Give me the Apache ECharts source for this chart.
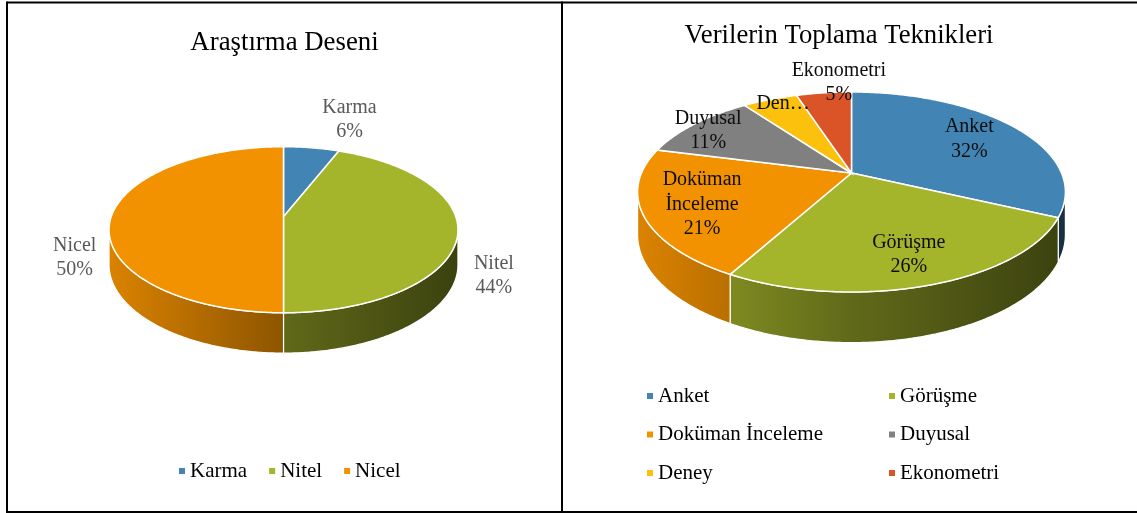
<!DOCTYPE html>
<html>
<head>
<meta charset="utf-8">
<script src="https://cdn.jsdelivr.net/npm/echarts/dist/echarts.min.js"></script>
<style>
  html, body { margin: 0; padding: 0; background: #fff; }
  #chart { width: 1137px; height: 513px; }
</style>
</head>
<body>
<div id="chart"></div>
<script>
// Araştırma Deseni
const designNames = ['Karma', 'Nitel', 'Nicel'];
const designValues = [6, 44, 50];

// Verilerin Toplama Teknikleri
const techNames = ['Anket', 'Görüşme', 'Doküman İnceleme', 'Duyusal', 'Deney', 'Ekonometri'];
const techValues = [32, 26, 21, 11, 5, 5];

const designColors = ['#4285B4', '#A5B52B', '#F39200'];
const techColors = ['#4285B4', '#A5B52B', '#F39200', '#808080', '#FBC10C', '#DB5428'];

// 3B pasta görünümü (merkez, yarıçaplar, perspektif, kalınlık)
const designPie = { cx: 283.5, cy: 216.7, rx: 172.3, ry: 81, p: 0.157, h: 34 };
const techPie = { cx: 851.5, cy: 173, rx: 210, ry: 96.4, p: 0.19, h: 41 };

// etiket yerleşimi: yarıçap oranı + kaydırma
const designLabelPos = [
  { f: 1, dx: 38, dy: -28 },
  { f: 1, dx: 36, dy: 43.5 },
  { f: 1, dx: -36.5, dy: 41 }
];
const techLabelPos = [
  { f: 0.7, dx: 2, dy: 0 },
  { f: 0.75, dx: 1, dy: 2 },
  { f: 0.7, dx: -7, dy: 3 },
  { f: 0.85, dx: -8, dy: 0 },
  { f: 0.9, dx: 6, dy: -2 },
  { f: 1, dx: 15, dy: -10 }
];

const FONT = '"Liberation Serif", "Times New Roman", serif';

function shade(hex, k) {
  const n = parseInt(hex.slice(1), 16);
  const r = Math.round(((n >> 16) & 255) * k);
  const g = Math.round(((n >> 8) & 255) * k);
  const b = Math.round((n & 255) * k);
  return 'rgb(' + r + ',' + g + ',' + b + ')';
}

// açı: saat 12'den saat yönünde (radyan)
function proj(g, phi, f) {
  const u = Math.sin(phi) * f;
  const v = -Math.cos(phi) * f;
  const s = 1 / (1 - g.p * v);
  return [g.cx + g.rx * u * s, g.cy + g.ry * v * s, s];
}

function pieSeries(idx, names, values, colors, g, labelPos, labelColor, labelText) {
  const total = values.reduce((a, b) => a + b, 0);
  let start = 0;
  for (let i = 0; i < idx; i++) start += values[i];
  const a0 = start / total * Math.PI * 2;
  const a1 = (start + values[idx]) / total * Math.PI * 2;
  const color = colors[idx];

  return {
    type: 'custom',
    name: names[idx],
    coordinateSystem: 'none',
    silent: true,
    itemStyle: { color: color },
    data: [[values[idx]]],
    renderItem: function () {
      const children = [];

      // yan yüz (sadece önde görünen kısım)
      const lo = Math.acos(-g.p);
      const hi = Math.PI * 2 - lo;
      const sa = Math.max(a0, lo);
      const sb = Math.min(a1, hi);
      if (sb > sa) {
        const n = Math.max(2, Math.ceil((sb - sa) / 0.01));
        const topPts = [];
        const botPts = [];
        for (let i = 0; i <= n; i++) {
          const pt = proj(g, sa + (sb - sa) * i / n, 1);
          topPts.push([pt[0], pt[1]]);
          botPts.push([pt[0], pt[1] + g.h * pt[2]]);
        }
        children.push({
          type: 'polygon',
          shape: { points: topPts.concat(botPts.reverse()) },
          style: {
            fill: {
              type: 'linear', global: true,
              x: g.cx - g.rx * 1.02, y: 0, x2: g.cx + g.rx * 1.02, y2: 0,
              colorStops: [
                { offset: 0, color: shade(color, 0.9) },
                { offset: 0.5, color: shade(color, 0.58) },
                { offset: 1, color: shade(color, 0.36) }
              ]
            },
            stroke: '#fff',
            lineWidth: 1.2
          }
        });
      }

      // üst yüz
      const n2 = Math.max(2, Math.ceil((a1 - a0) / 0.01));
      const pts = [[g.cx, g.cy]];
      for (let i = 0; i <= n2; i++) {
        const pt = proj(g, a0 + (a1 - a0) * i / n2, 1);
        pts.push([pt[0], pt[1]]);
      }
      children.push({
        type: 'polygon',
        shape: { points: pts },
        style: { fill: color, stroke: '#fff', lineWidth: 1.5 }
      });

      // etiket
      const lp = labelPos[idx];
      const mid = (a0 + a1) / 2;
      const lpt = proj(g, mid, lp.f);
      children.push({
        type: 'text',
        z2: 10,
        style: {
          text: labelText(idx, Math.round(values[idx] / total * 100)),
          x: lpt[0] + lp.dx,
          y: lpt[1] + lp.dy,
          align: 'center',
          verticalAlign: 'middle',
          fontFamily: FONT,
          fontSize: 20,
          lineHeight: 24.5,
          fill: labelColor
        }
      });

      return { type: 'group', children: children };
    }
  };
}

const series = [];
designNames.forEach(function (n, i) {
  series.push(pieSeries(i, designNames, designValues, designColors, designPie, designLabelPos, '#595959',
    function (k, pct) { return designNames[k] + '\n' + pct + '%'; }));
});
techNames.forEach(function (n, i) {
  series.push(pieSeries(i, techNames, techValues, techColors, techPie, techLabelPos, '#0d0d0d',
    function (k, pct) {
      if (techNames[k] === 'Deney') return 'Den…';
      return techNames[k].replace(' ', '\n') + '\n' + pct + '%';
    }));
});

const legendBase = {
  icon: 'rect',
  itemWidth: 6,
  itemHeight: 6,
  padding: 0,
  selectedMode: false,
  textStyle: { fontFamily: FONT, fontSize: 21, color: '#000', lineHeight: 22 }
};

const chart = echarts.init(document.getElementById('chart'));
chart.setOption({
  animation: false,
  color: designColors,
  legend: [
    Object.assign({}, legendBase, {
      data: designNames, left: 179, top: 460, orient: 'horizontal', itemGap: 22
    }),
    Object.assign({}, legendBase, {
      data: ['Anket', 'Doküman İnceleme', 'Deney'], left: 647, top: 385, orient: 'vertical', itemGap: 16.5
    }),
    Object.assign({}, legendBase, {
      data: ['Görüşme', 'Duyusal', 'Ekonometri'], left: 889, top: 385, orient: 'vertical', itemGap: 16.5
    })
  ],
  graphic: [
    // çerçeve
    { type: 'line', shape: { x1: 7, y1: 2.5, x2: 1137, y2: 2.5 }, style: { stroke: '#000', lineWidth: 2 } },
    { type: 'line', shape: { x1: 7, y1: 512, x2: 1137, y2: 512 }, style: { stroke: '#000', lineWidth: 2 } },
    { type: 'line', shape: { x1: 7, y1: 1.5, x2: 7, y2: 513 }, style: { stroke: '#000', lineWidth: 2 } },
    { type: 'line', shape: { x1: 562, y1: 1.5, x2: 562, y2: 513 }, style: { stroke: '#000', lineWidth: 2 } },
    // başlıklar
    {
      type: 'text', x: 284.5, y: 43,
      style: { text: 'Araştırma Deseni', align: 'center', verticalAlign: 'middle',
        fontFamily: FONT, fontSize: 26.8, fill: '#000' }
    },
    {
      type: 'text', x: 839, y: 36,
      style: { text: 'Verilerin Toplama Teknikleri', align: 'center', verticalAlign: 'middle',
        fontFamily: FONT, fontSize: 26.7, fill: '#000' }
    }
  ],
  series: series
});
</script>
</body>
</html>
